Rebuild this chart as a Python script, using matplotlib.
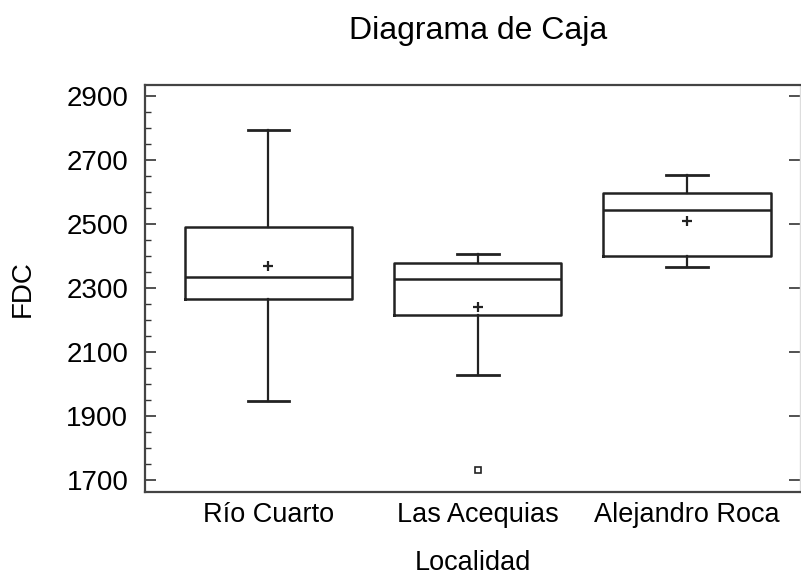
import matplotlib
matplotlib.use("Agg")
import matplotlib.pyplot as plt
from matplotlib.ticker import MultipleLocator

plt.rcParams['font.family'] = ['Liberation Sans', 'DejaVu Sans']

## DATOS ##
localidades = ['Río Cuarto', 'Las Acequias', 'Alejandro Roca']
whislo = [1946, 2028, 2366]
q1 = [2266, 2216, 2400]
med = [2333, 2327, 2543]
q3 = [2489, 2379, 2596]
whishi = [2794, 2407, 2653]
medias = [2367, 2242, 2510]
atipicos = [[], [1731], []]
yticks = [1700, 1900, 2100, 2300, 2500, 2700, 2900]

# estadisticos por caja para bxp
stats = []
for i in range(len(localidades)):
    stats.append({'label': localidades[i], 'whislo': whislo[i], 'q1': q1[i],
                  'med': med[i], 'q3': q3[i], 'whishi': whishi[i],
                  'mean': medias[i], 'fliers': atipicos[i]})

fig = plt.figure(figsize=(8.01, 5.75), dpi=100)
ax = fig.add_axes([145/801, 83/575, 655/801, 407/575])

ax.bxp(stats, positions=[1, 2, 3], widths=0.8, capwidths=0.2, showmeans=True,
       boxprops=dict(color='#222222', linewidth=1.8),
       whiskerprops=dict(color='#222222', linewidth=1.6),
       capprops=dict(color='#222222', linewidth=2.0),
       medianprops=dict(color='#222222', linewidth=1.8),
       meanprops=dict(marker='+', markeredgecolor='#222222', markersize=7, markeredgewidth=1.6),
       flierprops=dict(marker='s', markerfacecolor='none', markeredgecolor='#222222',
                       markersize=5, markeredgewidth=1.2))

ax.set_xlim(0.41, 3.54)
ax.set_ylim(1662.5, 2934)
ax.set_yticks(yticks)
ax.yaxis.set_minor_locator(MultipleLocator(50))

ax.tick_params(axis='y', which='major', direction='in', length=8, width=1.2,
               labelsize=20, pad=12, right=True, color='#333333')
ax.tick_params(axis='y', which='minor', direction='in', length=4, width=1.0,
               left=True, right=False, color='#333333')
ax.tick_params(axis='x', length=0, labelsize=19.5, pad=7)

for s in ['left', 'top', 'bottom']:
    ax.spines[s].set_color('#444444')
    ax.spines[s].set_linewidth(1.6)
ax.spines['right'].set_color('#dddddd')
ax.spines['right'].set_linewidth(1.0)

ax.set_xlabel('Localidad', fontsize=19.5, labelpad=16)
ax.set_ylabel('FDC', fontsize=20, labelpad=22)
ax.set_title('Diagrama de Caja', fontsize=23, pad=33, x=0.508)

fig.savefig('out.png', dpi=100)
